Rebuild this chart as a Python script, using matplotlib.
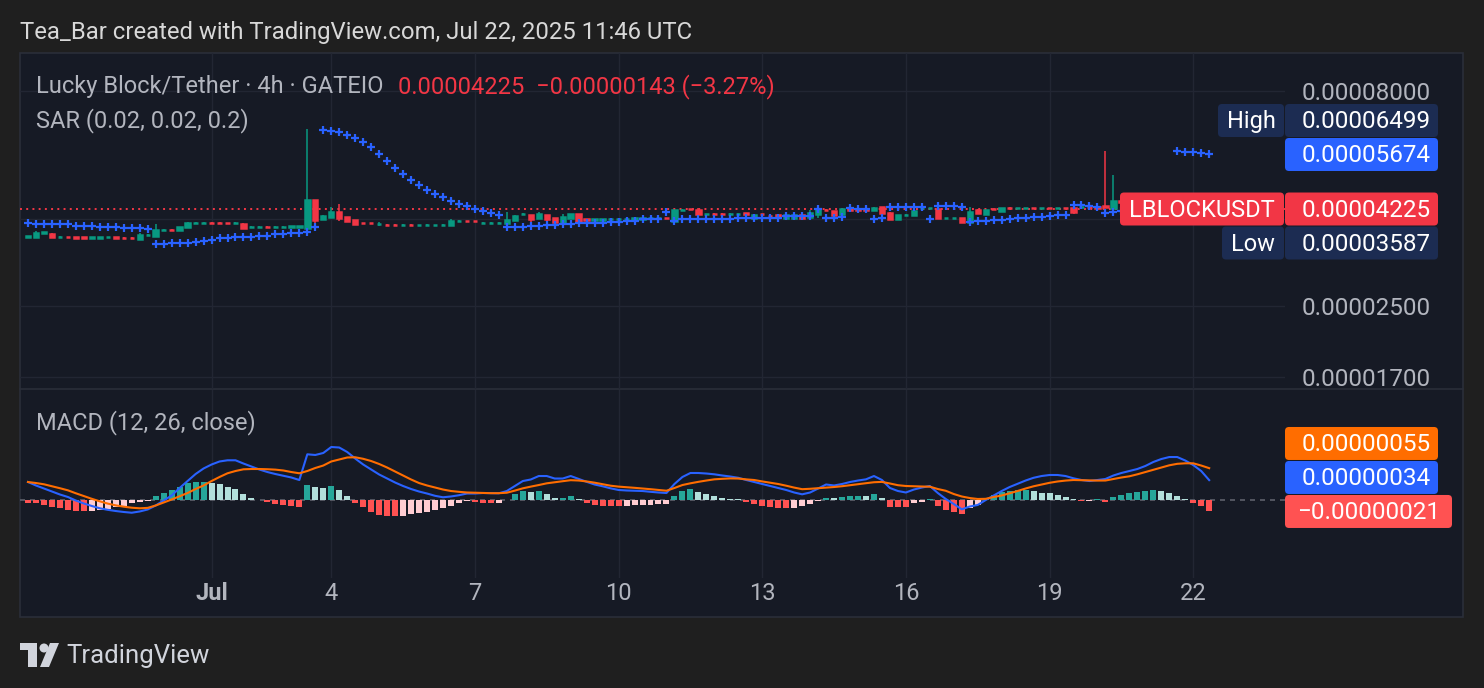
import numpy as np
import matplotlib
matplotlib.use("Agg")
import matplotlib.pyplot as plt
from matplotlib.patches import Rectangle, FancyBboxPatch, Circle, Polygon
from matplotlib.ticker import NullLocator, NullFormatter

plt.rcParams['font.family'] = ['Roboto', 'DejaVu Sans']

W, H = 1484, 688
OUTER = '#1f1f1f'
PANEL = '#161a25'
BORDER = '#2a2e39'
GRID = '#222633'
TXT = '#b2b5be'
GREEN = '#089981'
RED = '#f23645'
BLUE = '#2962ff'
ORANGE = '#ff6d00'
NAVY = '#1c2c52'
FS = 17      # legend / label text
FS_NUM = 17.5  # numbers on the price scale

# prices in units of 1e-8 USDT, one entry per 4h bar
opens = [3630, 3636, 3720, 3700, 3636, 3630, 3625, 3623, 3618, 3619,
         3622, 3625, 3621, 3618, 3600, 3675, 3660, 3772, 3778, 3770,
         3830, 3922, 3923, 3926, 3924, 3923, 3918, 3905, 3836, 3838,
         3840, 3836, 3838, 3840, 3840, 3822, 4436, 4005, 4048, 4160,
         4048, 3983, 3920, 3921, 3895, 3882, 3881, 3876, 3881, 3875,
         3876, 3876, 3877, 3878, 3960, 3966, 3964, 3918, 3918, 3919,
         3912, 3983, 4112, 4092, 4026, 4080, 4026, 3941, 4026, 4114,
         3997, 3988, 3990, 3999, 4004, 4008, 4010, 4012, 4016, 4018,
         4030, 3962, 4205, 4230, 4203, 4110, 4118, 4118, 4116, 4117,
         4124, 4032, 4110, 4075, 4090, 4026, 4026, 4090, 4048, 4114,
         4212, 4181, 4114, 4214, 4214, 4214, 4203, 4272, 4142, 4005,
         4090, 4092, 4245, 4245, 4232, 4022, 4022, 4020, 3941, 4200,
         4114, 4232, 4181, 4255, 4238, 4240, 4246, 4238, 4244, 4238,
         4244, 4249, 4268, 4270, 4265, 4285, 4249, 4412, 4380, 4350,
         4300, 4330, 4290, 4310, 4270, 4250, 4300, 4340, 4368]
highs = [3656, 3755, 3730, 3710, 3645, 3636, 3628, 3628, 3626, 3627,
         3628, 3630, 3625, 3622, 3715, 3690, 3898, 3785, 3782, 3838,
         3930, 3932, 3932, 3930, 3928, 3927, 3928, 3915, 3846, 3848,
         3845, 3846, 3848, 3850, 3852, 6499, 4440, 4080, 4265, 4341,
         4055, 3990, 3925, 3926, 3940, 3888, 3886, 3886, 3886, 3885,
         3886, 3885, 3888, 4005, 3972, 3970, 3970, 3930, 3928, 3930,
         4158, 4085, 4125, 4098, 4158, 4090, 4030, 4114, 4120, 4120,
         4002, 4000, 4002, 4010, 4015, 4018, 4020, 4022, 4026, 4028,
         4035, 4210, 4218, 4235, 4249, 4122, 4124, 4124, 4126, 4128,
         4130, 4108, 4116, 4082, 4095, 4096, 4096, 4096, 4203, 4215,
         4218, 4186, 4249, 4220, 4222, 4232, 4262, 4278, 4148, 4098,
         4102, 4188, 4258, 4258, 4240, 4034, 4034, 4026, 4272, 4226,
         4210, 4240, 4256, 4262, 4250, 4252, 4252, 4250, 4250, 4250,
         4250, 4255, 4280, 4276, 4270, 5782, 5079, 4430, 4400, 4370,
         4350, 4345, 4330, 4320, 4290, 4320, 4360, 4390, 4380]
lows = [3620, 3630, 3712, 3620, 3630, 3610, 3615, 3614, 3614, 3615,
        3617, 3615, 3612, 3608, 3587, 3668, 3656, 3765, 3765, 3765,
        3825, 3915, 3918, 3915, 3914, 3912, 3914, 3825, 3830, 3832,
        3830, 3832, 3834, 3835, 3835, 3816, 3840, 3995, 4040, 3970,
        3955, 3900, 3910, 3912, 3860, 3872, 3870, 3870, 3870, 3870,
        3871, 3872, 3872, 3872, 3955, 3955, 3952, 3912, 3913, 3914,
        3908, 3978, 4106, 3898, 4020, 3941, 3935, 3935, 4020, 3935,
        3985, 3982, 3984, 3993, 3998, 4002, 4004, 4006, 4010, 4012,
        4018, 3958, 4198, 4218, 4098, 4104, 4106, 4106, 4110, 4112,
        4112, 4025, 4098, 4060, 4042, 4020, 4020, 4020, 4042, 4026,
        4198, 4085, 4026, 4200, 4200, 4190, 4198, 4130, 3999, 4000,
        4085, 4086, 4240, 4240, 4020, 4016, 4016, 3935, 3935, 4110,
        4108, 4222, 4175, 4242, 4232, 4234, 4234, 4232, 4232, 4232,
        4232, 4114, 4262, 4255, 4250, 4255, 4240, 4350, 4320, 4280,
        4280, 4270, 4270, 4250, 4200, 4230, 4280, 4320, 4200]
closes = [3643, 3720, 3722, 3630, 3640, 3622, 3620, 3618, 3622, 3623,
          3625, 3620, 3617, 3614, 3675, 3680, 3775, 3778, 3772, 3830,
          3925, 3926, 3927, 3920, 3919, 3918, 3922, 3822, 3840, 3842,
          3836, 3840, 3842, 3844, 3845, 4436, 3983, 4070, 4160, 4030,
          3962, 3905, 3916, 3917, 3899, 3878, 3877, 3880, 3877, 3879,
          3880, 3880, 3881, 3962, 3965, 3961, 3960, 3922, 3922, 3923,
          3990, 4076, 4118, 4005, 4114, 4005, 3941, 4048, 4114, 3941,
          3990, 3993, 3995, 4003, 4010, 4012, 4014, 4016, 4020, 4022,
          4024, 4203, 4210, 4224, 4102, 4116, 4112, 4112, 4121, 4122,
          4118, 4090, 4104, 4066, 4048, 4090, 4090, 4026, 4142, 4210,
          4205, 4092, 4226, 4208, 4208, 4206, 4256, 4136, 4005, 4092,
          4096, 4181, 4251, 4251, 4026, 4028, 4028, 3941, 4158, 4130,
          4203, 4228, 4249, 4249, 4244, 4246, 4240, 4244, 4238, 4244,
          4238, 4158, 4274, 4262, 4258, 4260, 4412, 4380, 4350, 4300,
          4330, 4290, 4310, 4270, 4250, 4300, 4340, 4368, 4225]
sar = [3925, 3905, 3905, 3905, 3886, 3886, 3858, 3858, 3858, 3838,
       3838, 3838, 3816, 3816, 3816, 3795, 3502, 3502, 3521, 3521,
       3521, 3540, 3559, 3578, 3603, 3603, 3623, 3636, 3636, 3656,
       3656, 3682, 3682, 3702, 3702, 3722, 3830, 6489, 6443, 6408,
       6316, 6214, 6081, 5919, 5699, 5487, 5283, 5107, 4942, 4819,
       4690, 4590, 4516, 4419, 4348, 4302, 4232, 4181, 4142, 4098,
       3836, 3836, 3836, 3857, 3857, 3884, 3884, 3905, 3905, 3925,
       3925, 3925, 3925, 3941, 3941, 3956, 3956, 3997, 3997, 3997,
       4158, 3968, 3997, 3997, 4009, 4009, 4009, 4009, 4009, 4030,
       4030, 4030, 4030, 4030, 4030, 4059, 4059, 4059, 4059, 4232,
       4030, 4030, 4040, 4240, 4226, 4215, 4009, 4030, 4277, 4277,
       4263, 4263, 4263, 4005, 4295, 4295, 4295, 4277, 3948, 3968,
       3968, 3983, 3983, 4005, 4020, 4020, 4041, 4054, 4076, 4092,
       4092, 4318, 4318, 4295, 4281, 4129, 4164, 4180, 4195, 4210,
       4225, 4240, 4250, 4260, 5792, 5761, 5742, 5711, 5674]
macd = [30.7, 24.6, 19.3, 14.0, 8.8, 4.4, -1.8, -7.0, -11.4, -15.4,
        -18.1, -20.2, -21.9, -23.2, -21.0, -17.5, -10.5, -1.8, 7.0, 20.2,
        32.4, 44.7, 54.4, 61.4, 66.7, 68.8, 68.8, 63.1, 57.9, 52.6,
        48.2, 44.7, 41.6, 38.6, 34.2, 79.3, 78.1, 81.6, 92.1, 91.2,
        83.3, 71.9, 61.4, 52.6, 43.9, 36.8, 29.8, 23.7, 18.4, 14.0,
        10.5, 6.5, 3.9, 5.3, 7.5, 10.5, 10.5, 11.4, 11.1, 10.9,
        14.9, 23.7, 32.4, 35.1, 41.2, 41.2, 36.8, 36.8, 41.2, 36.0,
        31.0, 26.3, 23.2, 19.6, 16.7, 15.8, 15.3, 14.9, 13.5, 12.3,
        11.4, 27.2, 39.5, 46.5, 46.5, 45.6, 44.2, 42.1, 40.3, 38.1,
        34.2, 30.7, 27.2, 23.7, 20.2, 16.7, 12.3, 9.1, 12.3, 19.3,
        26.3, 24.6, 27.2, 30.7, 33.3, 35.4, 41.2, 34.2, 20.2, 14.9,
        12.3, 17.5, 21.0, 23.7, 11.4, 0.9, -7.9, -17.2, -12.3, -9.6,
        -0.9, 7.0, 14.9, 21.9, 27.5, 33.3, 38.1, 41.2, 43.0, 43.0,
        41.2, 37.2, 34.2, 32.4, 34.2, 36.0, 42.1, 46.5, 50.0, 53.5,
        58.8, 65.8, 71.0, 74.5, 74.5, 68.4, 60.5, 50.0, 34.0]
signal = [30.7, 28.9, 26.7, 23.3, 19.8, 16.1, 10.9, 6.1, 1.2, -3.2,
          -7.2, -10.3, -12.6, -14.4, -15.4, -14.7, -10.5, -5.3, 0.0, 5.6,
          11.4, 18.4, 24.6, 32.4, 39.5, 46.0, 50.0, 53.0, 53.5, 53.5,
          53.1, 52.4, 50.9, 48.2, 46.0, 50.0, 55.3, 59.6, 66.7, 70.2,
          73.7, 74.1, 71.4, 67.5, 62.3, 56.1, 49.1, 42.1, 35.1, 28.9,
          24.6, 21.0, 17.5, 14.9, 13.5, 12.3, 11.9, 11.4, 11.1, 11.1,
          11.9, 15.6, 19.6, 22.6, 25.4, 28.4, 30.3, 32.1, 33.9, 33.3,
          31.7, 29.5, 26.8, 24.2, 22.6, 21.6, 20.5, 19.3, 18.1, 16.7,
          15.4, 20.2, 25.4, 28.4, 31.0, 33.3, 35.4, 36.3, 37.0, 36.8,
          35.3, 34.2, 31.7, 29.5, 27.2, 24.2, 20.9, 18.1, 18.8, 19.8,
          20.7, 21.9, 23.3, 25.1, 26.8, 28.6, 30.3, 30.9, 28.1, 25.1,
          23.7, 23.2, 22.8, 22.5, 18.4, 15.3, 9.6, 5.3, 2.6, 0.9,
          1.2, 4.4, 7.0, 10.9, 14.9, 19.3, 23.2, 26.3, 29.3, 31.6,
          33.2, 34.2, 33.9, 33.5, 33.2, 33.3, 36.0, 38.6, 40.7, 44.2,
          48.2, 52.3, 56.1, 60.0, 62.6, 63.5, 63.5, 59.6, 55.0]
hist = [-6.7, -6.7, -9.6, -13.7, -15.4, -18.4, -20.2, -20.5, -20.3, -18.4,
        -17.2, -12.6, -11.4, -6.7, -3.9, -2.6, 6.1, 11.9, 16.7, 21.4,
        29.5, 31.2, 31.3, 29.5, 27.2, 21.4, 18.4, 9.6, 3.2, -0.9,
        -3.9, -7.9, -9.6, -11.4, -12.6, 25.4, 21.4, 21.0, 23.7, 16.7,
        6.1, -5.6, -13.7, -21.4, -27.2, -28.9, -29.5, -28.9, -26.0, -23.2,
        -21.4, -18.4, -15.4, -11.4, -6.7, -2.6, -4.4, -5.6, -6.1, -5.6,
        -0.5, 9.6, 14.9, 13.2, 14.9, 9.6, 2.1, 3.2, 6.1, 0.4,
        -5.6, -9.6, -11.4, -11.8, -12.1, -11.4, -9.6, -9.5, -8.8, -7.9,
        -7.5, 6.1, 14.9, 18.4, 13.7, 9.6, 6.1, 2.1, 0.4, 0.2,
        -3.9, -7.9, -11.4, -13.7, -14.4, -14.6, -14.4, -11.4, -7.9, -1.8,
        3.2, 2.1, 4.9, 6.1, 6.5, 6.1, 9.6, 2.1, -12.6, -13.7,
        -13.9, -6.7, -3.9, 0.9, -11.4, -18.4, -21.4, -26.3, -15.4, -8.8,
        2.1, 7.9, 13.7, 15.4, 16.2, 16.7, 15.4, 11.9, 10.9, 7.4,
        3.9, 0.9, -2.6, -2.5, 0.3, -3.9, 4.9, 7.9, 10.9, 13.7,
        15.4, 15.8, 15.4, 11.9, 6.1, 0.4, -6.7, -11.4, -21.0]

tick_pos = [23, 38, 56, 74, 92, 110, 128, 146]
tick_labels = ["Jul", "4", "7", "10", "13", "16", "19", "22"]
price_ticks = [8000, 4000, 2500, 1700]
price_labels = ["0.00008000", "", "0.00002500", "0.00001700"]  # 4000 sits under the last-price tag

assert len(set(map(len, [opens, highs, lows, closes, sar, macd, signal, hist]))) == 1


def fmt(v):
    s = f"{abs(v) * 1e-8:.8f}"
    return ("\u2212" if v < 0 else "") + s


o, h, l, c = map(np.array, (opens, highs, lows, closes))
x = np.arange(len(c))

fig = plt.figure(figsize=(W / 100, H / 100), dpi=100, facecolor=OUTER)

# background panel
bg = fig.add_axes([0, 0, 1, 1], zorder=-10)
bg.set_xlim(0, W); bg.set_ylim(H, 0); bg.axis("off")
bg.add_patch(Rectangle((20, 53), 1443, 564, facecolor=PANEL, edgecolor=BORDER, lw=1.2))
bg.plot([20, 1463], [389, 389], color=BORDER, lw=1.2)

ax = fig.add_axes([20 / W, 1 - 389 / H, 1265 / W, 336 / H])
ax2 = fig.add_axes([20 / W, 1 - 578 / H, 1265 / W, 188 / H], sharex=ax)
for a in (ax, ax2):
    a.set_facecolor("none")
    for s in a.spines.values():
        s.set_visible(False)

# --- price pane ---
ax.set_yscale("log")
ax.set_xlim(-1.0, 157.5)
ax.set_ylim(1595.5, 9826)
cols = np.where(c >= o, GREEN, RED)
ax.vlines(x, l, h, colors=cols, lw=1.1, zorder=3)
ax.bar(x, np.abs(c - o), bottom=np.minimum(o, c), width=0.55, color=cols,
       edgecolor=cols, linewidth=1.8, zorder=3)
ax.plot(x, sar, ls="none", marker="+", color=BLUE, ms=6, mew=1.6, zorder=4)
ax.axhline(c[-1], color=RED, lw=1.4, ls=(0, (1, 2.2)), zorder=2)

ax.yaxis.tick_right()
ax.set_yticks(price_ticks)
ax.set_yticklabels(price_labels)
ax.yaxis.set_minor_locator(NullLocator())
ax.yaxis.set_minor_formatter(NullFormatter())
ax.tick_params(axis="y", length=0, pad=12, labelcolor=TXT, labelsize=FS_NUM)
ax.tick_params(axis="x", length=0, labelbottom=False)
ax.grid(True, color=GRID, lw=1.0)

# --- MACD pane ---
ax2.set_ylim(-137.7, 192.1)
hcols = []
prev = hist[0]
for v in hist:
    if v >= 0:
        hcols.append("#26a69a" if v > prev else "#b2dfdb")
    else:
        hcols.append("#ff5252" if v <= prev else "#ffcdd2")
    prev = v
ax2.bar(x, hist, width=0.75, color=hcols, zorder=3)
ax2.axhline(0, color="#5d606b", lw=1.2, ls=(0, (3, 3)), zorder=2)
ax2.plot(x, macd, color=BLUE, lw=1.5, zorder=4)
ax2.plot(x, signal, color=ORANGE, lw=1.5, zorder=4)
ax2.set_yticks([])
ax2.set_xticks(tick_pos)
ax2.set_xticklabels(tick_labels)
ax2.tick_params(axis="x", length=0, pad=3, labelcolor=TXT, labelsize=FS)
for t in ax2.get_xticklabels():
    if t.get_text() == "Jul":
        t.set_fontweight("bold")
ax2.grid(True, axis="x", color=GRID, lw=1.0)

# --- overlay: texts and price tags ---
ov = fig.add_axes([0, 0, 1, 1], zorder=10)
ov.set_xlim(0, W); ov.set_ylim(H, 0); ov.axis("off")


def py(a, v):
    return H - a.transData.transform((0, v))[1]


def tag(yc, x0, x1, color, text, tx, size=FS_NUM):
    ov.add_patch(FancyBboxPatch((x0, yc - 16.5), x1 - x0, 33,
                                boxstyle="round,pad=0,rounding_size=4",
                                fc=color, ec="none"))
    ov.text(tx, yc + 1.5, text, color="white", ha="center", va="center", fontsize=size)


y_sar = py(ax, sar[-1])
y_high = min(py(ax, h.max()), y_sar - 34)
y_last = py(ax, c[-1])
y_low = max(py(ax, l.min()), y_last + 34)
tag(y_high, 1218, 1284, NAVY, "High", 1251, FS)
tag(y_high, 1285, 1438, NAVY, fmt(h.max()), 1366)
tag(y_sar, 1285, 1438, BLUE, fmt(sar[-1]), 1366)
tag(y_last, 1120, 1284, RED, "LBLOCKUSDT", 1202, FS)
tag(y_last, 1285, 1438, RED, fmt(c[-1]), 1366)
tag(y_low, 1222, 1284, NAVY, "Low", 1253, FS)
tag(y_low, 1285, 1438, NAVY, fmt(l.min()), 1366)

y_h = py(ax2, hist[-1])
y_m = min(py(ax2, macd[-1]), y_h - 34)
y_s = min(py(ax2, signal[-1]), y_m - 34)
tag(y_s, 1285, 1438, ORANGE, fmt(signal[-1]), 1366)
tag(y_m, 1285, 1438, BLUE, fmt(macd[-1]), 1366)
tag(y_h, 1285, 1452, "#ff5252", fmt(hist[-1]), 1369)

chg = c[-1] - c[-2]
pct = chg / c[-2] * 100
ov.text(20, 33, "Tea_Bar created with TradingView.com, Jul 22, 2025 11:46 UTC",
        color="#d8d8d8", fontsize=17.2, va="center")
ov.text(36, 87, "Lucky Block/Tether \u00b7 4h \u00b7 GATEIO", color=TXT, fontsize=FS, va="center")
ov.text(398, 87, f"{fmt(c[-1])}  {fmt(chg)} ({'\u2212' if pct < 0 else ''}{abs(pct):.2f}%)",
        color=RED, fontsize=FS, va="center")
ov.text(36, 121, "SAR (0.02, 0.02, 0.2)", color=TXT, fontsize=FS, va="center")
ov.text(36, 423, "MACD (12, 26, close)", color=TXT, fontsize=FS, va="center")

# TradingView logo
logo = "#d1d4dc"
ov.add_patch(Rectangle((20, 643), 17, 7, fc=logo, ec="none"))
ov.add_patch(Rectangle((28, 643), 9, 24, fc=logo, ec="none"))
ov.add_patch(Circle((44, 648), 4.5, fc=logo, ec="none"))
ov.add_patch(Polygon([(50, 643), (59, 643), (49, 667), (40, 667)], fc=logo, ec="none"))
ov.text(66, 656, "TradingView", color=logo, fontsize=18.5, va="center")

fig.savefig("out.png", dpi=100, facecolor=OUTER)
